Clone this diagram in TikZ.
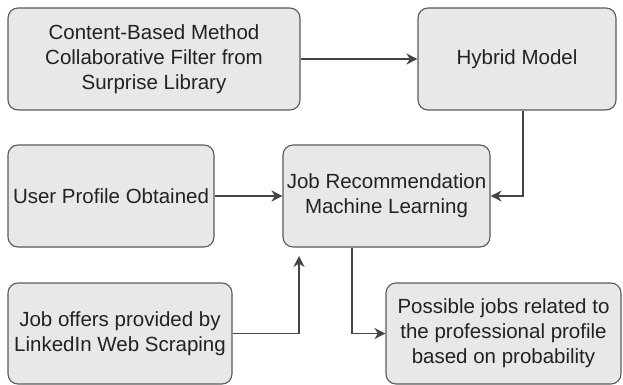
\documentclass[tikz,border=0pt]{standalone}
\usepackage{fontspec}
\setmainfont{Liberation Sans}
\usetikzlibrary{arrows.meta}
\definecolor{boxfill}{HTML}{E8E8E8}
\definecolor{boxline}{HTML}{5A5A5A}
\definecolor{arrowcol}{HTML}{444444}
\definecolor{txt}{HTML}{222222}
\tikzset{
  box/.style={draw=boxline, fill=boxfill, line width=1.1pt, rounded corners=10pt,
    align=center, inner sep=2pt, text=txt, font=\fontsize{20.5}{25}\selectfont},
  conn/.style={draw=arrowcol, line width=1.4pt, -{Stealth[length=11pt,width=11pt,inset=3.5pt]}}
}
\begin{document}
\begin{tikzpicture}[x=1pt,y=-1pt]
\useasboundingbox (0,0) rectangle (623,385);
\node[box, minimum width=292pt, minimum height=102pt] (cb) at (154,59)
  {Content-Based Method\\Collaborative Filter from\\Surprise Library};
\node[box, minimum width=198pt, minimum height=102pt] (hy) at (517,59) {Hybrid Model};
\node[box, minimum width=206pt, minimum height=102pt] (up) at (111,196) {User Profile Obtained};
\node[box, minimum width=207pt, minimum height=102pt] (jr) at (386.5,196)
  {Job Recommendation\\Machine Learning};
\node[box, minimum width=224pt, minimum height=101pt] (jo) at (120,333.5)
  {Job offers provided by\\LinkedIn Web Scraping};
\node[box, minimum width=235pt, minimum height=101pt] (pj) at (503.5,333.5)
  {Possible jobs related to\\the professional profile\\based on probability};
\coordinate (upend) at (299,256);
\draw[conn] (cb.east) -- (hy.west);
\draw[conn] (hy.south -| 523,0) |- (jr.east);
\draw[conn] (up.east) -- (jr.west);
\draw[conn] (jo.east) -| (upend);
\draw[conn] (jr.south -| 352,0) |- (pj.west);
\end{tikzpicture}
\end{document}
